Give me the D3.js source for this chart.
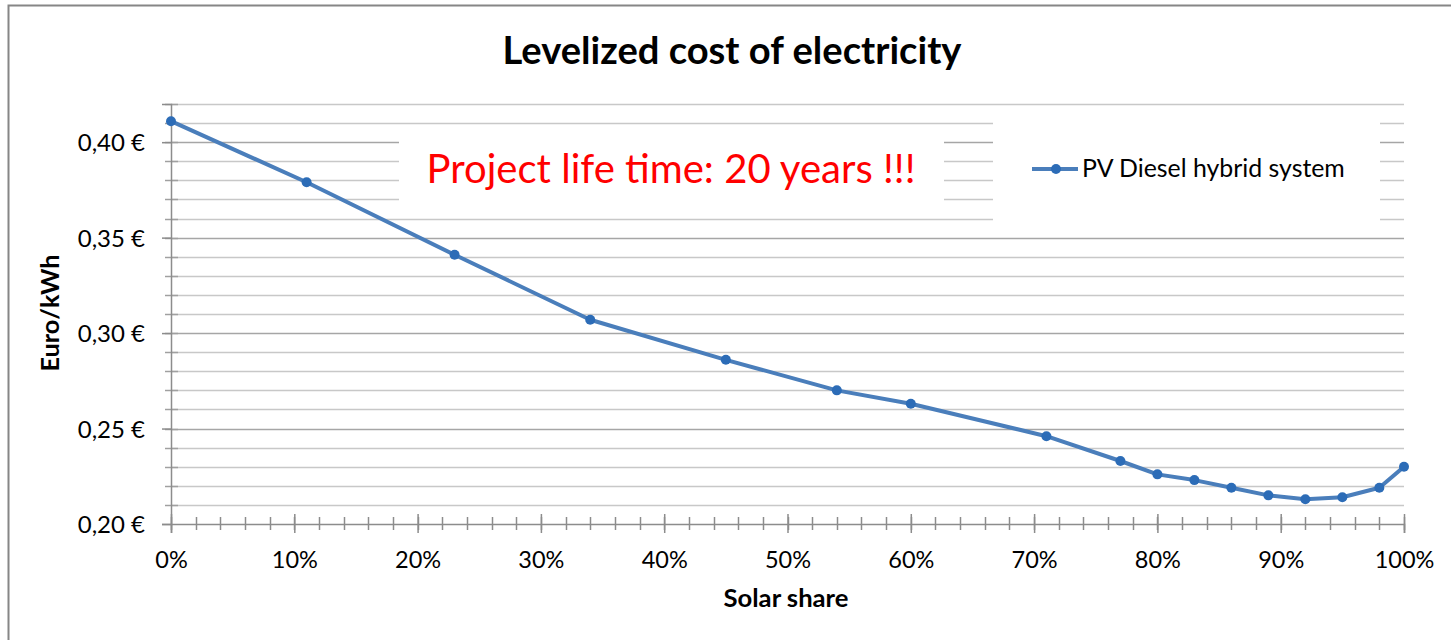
<!DOCTYPE html>
<html>
<head>
<meta charset="utf-8">
<script src="https://cdn.jsdelivr.net/npm/d3@7"></script>
<style>
  body { margin: 0; background: #fff; }
  svg { display: block; font-family: Lato, "Open Sans", sans-serif; }
</style>
</head>
<body>
<svg width="1451" height="640"></svg>
<script>
var solarShare = [0, 11, 23, 34, 45, 54, 60, 71, 77, 80, 83, 86, 89, 92, 95, 98, 100];
var lcoe = [0.411, 0.379, 0.341, 0.307, 0.286, 0.270, 0.263, 0.246, 0.233, 0.226, 0.223, 0.219, 0.215, 0.213, 0.214, 0.219, 0.230];
var yMajor = [0.20, 0.25, 0.30, 0.35, 0.40];
var yMinor = d3.range(21, 43).map(function(d) { return d / 100; });
var xMajor = d3.range(0, 101, 10);
var xMinor = d3.range(0, 101, 2);
var seriesName = "PV Diesel hybrid system";

var svg = d3.select("svg"),
    plotLeft = 171, plotRight = 1404, plotTop = 104, plotBottom = 524;

var x = d3.scaleLinear().domain([0, 100]).range([plotLeft, plotRight]);
var y = d3.scaleLinear().domain([0.20, 0.42]).range([plotBottom, plotTop]);

var euro = d3.formatLocale({decimal: ",", thousands: ".", grouping: [3], currency: ["", " €"]}).format(".2f");

function fit(sel, w) {
  var l = sel.node().getComputedTextLength();
  sel.attr("font-size", parseFloat(sel.attr("font-size")) * w / l);
  return sel;
}

function py(d) { return Math.round(y(d)) + 0.5; }
function px(d) { return Math.round(x(d)) + 0.5; }

// outer frame
svg.append("rect")
  .attr("x", 8.5).attr("y", 5.5)
  .attr("width", 1460).attr("height", 660)
  .attr("fill", "none").attr("stroke", "#868686").attr("stroke-width", 2);

// gridlines
svg.append("g").selectAll("line")
  .data(yMinor)
  .enter().append("line")
    .attr("x1", plotLeft).attr("x2", plotRight)
    .attr("y1", py).attr("y2", py)
    .attr("stroke", function(d) { return Math.round(d * 100) % 5 === 0 ? "#a6a6a6" : "#c8c8c8"; })
    .attr("stroke-width", 1.5);

// minor y ticks (crossing)
svg.append("g").selectAll("line")
  .data(yMinor)
  .enter().append("line")
    .attr("x1", plotLeft - 6).attr("x2", plotLeft + 7)
    .attr("y1", py).attr("y2", py)
    .attr("stroke", "#a0a0a0").attr("stroke-width", 1.5);

// y axis
var yAxis = svg.append("g")
    .attr("transform", "translate(" + plotLeft + ",0)")
    .call(d3.axisLeft(y).tickValues(yMajor).tickFormat(function(d) { return euro(d) + " €"; })
      .tickSize(9).tickPadding(17));
yAxis.attr("font-family", null).attr("font-size", null);
yAxis.select(".domain").attr("stroke", "#8c8c8c").attr("stroke-width", 1.5);
yAxis.selectAll(".tick line").attr("stroke", "#8c8c8c").attr("stroke-width", 1.5);
yAxis.selectAll(".tick text").attr("font-size", 24).attr("fill", "#000").attr("dy", "0.36em");

// minor x ticks (crossing)
svg.append("g").selectAll("line")
  .data(xMinor)
  .enter().append("line")
    .attr("x1", px).attr("x2", px)
    .attr("y1", plotBottom - 7).attr("y2", plotBottom + 6)
    .attr("stroke", "#8c8c8c").attr("stroke-width", 1.5);

var xAxis = svg.append("g")
    .attr("transform", "translate(0," + plotBottom + ")")
    .call(d3.axisBottom(x).tickValues(xMajor).tickFormat(function(d) { return d + "%"; })
      .tickSize(9).tickPadding(18));
xAxis.attr("font-family", null).attr("font-size", null);
xAxis.select(".domain").attr("stroke", "#8c8c8c").attr("stroke-width", 1.5);
xAxis.selectAll(".tick line").attr("y1", -10).attr("stroke", "#8c8c8c").attr("stroke-width", 1.5);
xAxis.selectAll(".tick text").attr("font-size", 23.5).attr("fill", "#000");

// white boxes for annotation and legend
svg.append("rect").attr("x", 399).attr("y", 131).attr("width", 545).attr("height", 78).attr("fill", "#fff");
svg.append("rect").attr("x", 993).attr("y", 112).attr("width", 387).attr("height", 117).attr("fill", "#fff");

// series
var pts = solarShare.map(function(d, i) { return [d, lcoe[i]]; });
var line = d3.line()
    .x(function(d) { return x(d[0]); })
    .y(function(d) { return y(d[1]); });

svg.append("path")
  .datum(pts)
  .attr("d", line)
  .attr("fill", "none")
  .attr("stroke", "#4a7ebb")
  .attr("stroke-width", 4)
  .attr("stroke-linejoin", "round");

svg.append("g").selectAll("circle")
  .data(pts)
  .enter().append("circle")
    .attr("cx", function(d) { return x(d[0]); })
    .attr("cy", function(d) { return y(d[1]); })
    .attr("r", 5)
    .attr("fill", "#2c6cb7");

// legend
svg.append("line").attr("x1", 1032).attr("x2", 1078).attr("y1", 169).attr("y2", 169)
  .attr("stroke", "#4a7ebb").attr("stroke-width", 4);
svg.append("circle").attr("cx", 1056).attr("cy", 169).attr("r", 5).attr("fill", "#2c6cb7");
fit(svg.append("text").attr("x", 1082).attr("y", 177).attr("font-size", 22)
  .text(seriesName), 263);

// annotation
fit(svg.append("text").attr("x", 671).attr("y", 183).attr("text-anchor", "middle")
  .attr("font-size", 36).attr("fill", "#ff0000")
  .text("Project life time: 20 years !!!"), 489);

// title
fit(svg.append("text").attr("x", 732).attr("y", 64).attr("text-anchor", "middle")
  .attr("font-size", 36).attr("font-weight", "bold")
  .text("Levelized cost of electricity"), 459);

// axis titles
fit(svg.append("text").attr("x", 786).attr("y", 607).attr("text-anchor", "middle")
  .attr("font-size", 22).attr("font-weight", "bold")
  .text("Solar share"), 125);

fit(svg.append("text").attr("transform", "translate(59,313) rotate(-90)").attr("text-anchor", "middle")
  .attr("font-size", 22).attr("font-weight", "bold")
  .text("Euro/kWh"), 117);
</script>
</body>
</html>
